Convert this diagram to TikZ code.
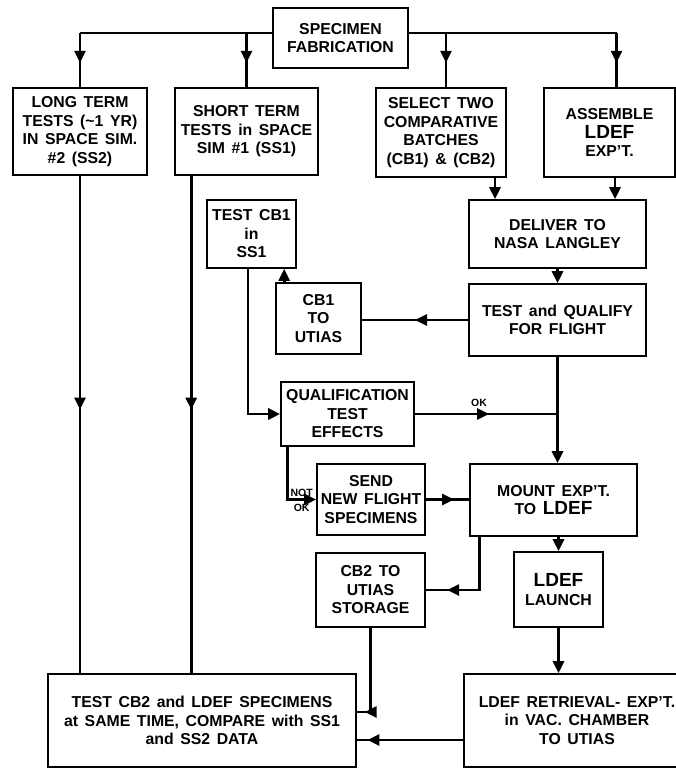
\documentclass[tikz,border=0pt]{standalone}
\usepackage{fontspec}
\setmainfont{Liberation Sans}[WordSpace=1.5]
\usepackage{tikz}
\usetikzlibrary{arrows.meta, positioning, decorations.markings}

\newcommand{\bigldef}{{\fontsize{19}{19}\selectfont LDEF}}

\begin{document}
\begin{tikzpicture}[
        x=1pt, y=-1pt,
        box/.style={rectangle, draw, line width=1.6pt, align=center, inner sep=2pt,
            font=\fontsize{15.8}{18.5}\selectfont\bfseries},
        lab/.style={font=\fontsize{10.5}{10.5}\selectfont\bfseries, inner sep=1pt},
        flow/.style={line width=2.8pt},
        tip/.style={-{Triangle[length=12pt, width=11pt]}},
        midarr/.style={postaction={decorate}, decoration={markings,
            mark=at position #1 with {\arrow{Triangle[length=12pt, width=11pt]}}}}
    ]
        \useasboundingbox (0,0) rectangle (676,768);
        \fill[white] (0,0) rectangle (676,768);
        \clip (0,0) rectangle (676,768);

        % First row
        \node[box, minimum width=135, minimum height=60] (spec) at (340.5,38) {SPECIMEN\\FABRICATION};
        \node[box, minimum width=134, minimum height=87] (longt) at (80,131.5) {LONG TERM\\TESTS (\textasciitilde1 YR)\\IN SPACE SIM.\\\#2 (SS2)};
        \node[box, minimum width=143, minimum height=87] (shortt) at (246.5,131.5) {SHORT TERM\\TESTS in SPACE\\SIM \#1 (SS1)};
        \node[box, minimum width=130, minimum height=89] (select) at (441,132.5) {SELECT TWO\\COMPARATIVE\\BATCHES\\(CB1) \& (CB2)};
        \node[box, minimum width=131, minimum height=89] (assem) at (609.5,132.5) {ASSEMBLE\\\bigldef\\EXP'T.};

        % Middle
        \node[box, minimum width=177, minimum height=68] (deliver) at (557.5,234) {DELIVER TO\\NASA LANGLEY};
        \node[box, minimum width=89, minimum height=68] (testcb) at (251.5,234) {TEST CB1\\in\\SS1};
        \node[box, minimum width=85, minimum height=71] (cbone) at (318.5,318.5) {CB1\\TO\\UTIAS};
        \node[box, minimum width=177, minimum height=72] (qualify) at (557.5,320) {TEST and QUALIFY\\FOR FLIGHT};
        \node[box, minimum width=133, minimum height=64, inner sep=1pt] (qual) at (347.5,414) {QUALIFICATION\\TEST\\EFFECTS};
        \node[box, minimum width=108, minimum height=71] (send) at (371,499.5) {SEND\\NEW FLIGHT\\SPECIMENS};
        \node[box, minimum width=167, minimum height=72] (mount) at (553.5,500) {MOUNT EXP'T.\\TO \bigldef};
        \node[box, minimum width=109, minimum height=74] (cbtwo) at (370.5,590) {CB2 TO\\UTIAS\\STORAGE};
        \node[box, minimum width=89, minimum height=75] (launch) at (558.5,589.5) {\bigldef\\LAUNCH};

        % Bottom row
        \node[box, minimum width=308, minimum height=93] (testall) at (202,720.5) {TEST CB2 and LDEF SPECIMENS\\at SAME TIME, COMPARE with SS1\\and SS2 DATA};
        \node[box, minimum width=226, minimum height=93] (retr) at (577,720.5) {LDEF RETRIEVAL- EXP'T.\\in VAC. CHAMBER\\TO UTIAS};

        % Bus from fabrication
        \draw[flow] ([yshift=5pt]spec.west) -- ([yshift=5pt]spec.west -| longt.north);
        \draw[flow] ([yshift=5pt]spec.east) -- ([yshift=5pt, xshift=7pt]spec.east -| assem.north);
        \draw[flow, midarr=0.55] ([yshift=5pt]spec.west -| longt.north) -- (longt.north);
        \draw[flow, midarr=0.55] ([yshift=5pt]spec.west -| shortt.north) -- (shortt.north);
        \draw[flow, midarr=0.55] ([yshift=5pt, xshift=5pt]spec.east -| select.north) -- ([xshift=5pt]select.north);
        \draw[flow, midarr=0.55] ([yshift=5pt, xshift=7pt]spec.east -| assem.north) -- ([xshift=7pt]assem.north);

        % Right chain
        \draw[flow, tip] ([xshift=54pt]select.south) -- ([xshift=54pt]select.south |- deliver.north);
        \draw[flow, tip] ([xshift=5.5pt]assem.south) -- ([xshift=5.5pt]assem.south |- deliver.north);
        \draw[flow, tip] (deliver.south) -- (qualify.north);
        \draw[flow, midarr=0.5] (qualify.west) -- (qualify.west -| cbone.east);
        \draw[flow, tip] ([xshift=9pt]cbone.north west) -- ([xshift=9pt]cbone.north west |- testcb.south);
        \draw[flow, tip] ([xshift=-3.5pt]testcb.south) |- (qual.west);
        \draw[flow, midarr=0.52] (qual.east) -- (qual.east -| qualify.south) node[pos=0.45, above=5pt, lab] {OK};
        \draw[flow, tip] (qualify.south) -- (qualify.south |- mount.north);
        \draw[flow, tip] ([xshift=7pt]qual.south west) |- (send.west)
            node[pos=0.75, above=1pt, lab] {NOT} node[pos=0.75, below=2pt, lab] {OK};
        \draw[flow, midarr=0.65] (send.east) -- (send.east -| mount.west);
        \draw[flow, midarr=0.8] ([xshift=10pt]mount.south west) |- (cbtwo.east);
        \draw[flow, tip] (mount.south -| launch.north) -- (launch.north);
        \draw[flow, tip] (launch.south) -- (launch.south |- retr.north);

        % Into the final test
        \draw[flow, midarr=0.92] (cbtwo.south) |- ([yshift=8.5pt]testall.east);
        \draw[flow, midarr=0.9] ([yshift=-19.5pt]retr.west) -- ([yshift=-19.5pt]retr.west -| testall.east);
        \draw[flow, midarr=0.47] (longt.south) -- (longt.south |- testall.north);
        \draw[flow, midarr=0.47] ([xshift=17pt]shortt.south west) -- ([xshift=17pt]shortt.south west |- testall.north);
    \end{tikzpicture}
\end{document}
